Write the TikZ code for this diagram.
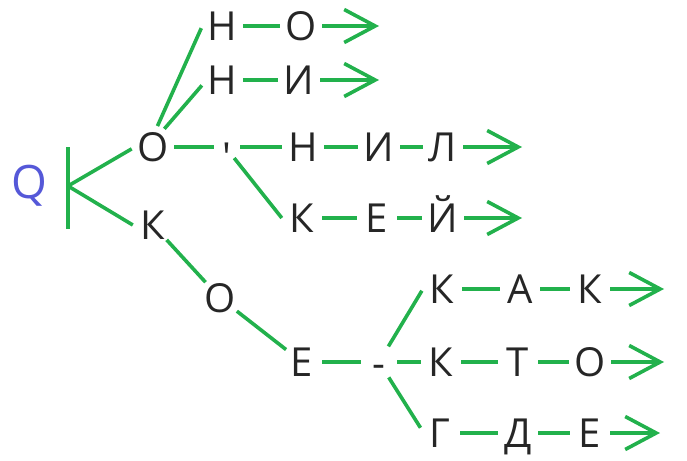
\documentclass[tikz,border=0pt]{standalone}
\usepackage{fontspec}
\newfontfamily\triefont{Open Sans}
\usetikzlibrary{arrows.meta}
\definecolor{triegreen}{HTML}{22B14C}
\definecolor{trieblue}{HTML}{5558D8}

\begin{document}
\begin{tikzpicture}[x=1pt,y=-1pt,
	letter/.style={circle,inner sep=0pt,minimum size=40pt,text=black!85,
		font=\triefont\fontsize{40}{44}\selectfont,text height=29pt,text depth=0pt},
	punct/.style={letter,minimum size=26pt,text height=12pt},
	link/.style={draw=triegreen,line width=3.6pt},
	leaf/.style={link,-{Straight Barb[length=31pt,width=33pt]}}]
	\useasboundingbox (0,0) rectangle (687,460);
	\node[inner sep=0pt,text=trieblue,font=\triefont\fontsize{46}{50}\selectfont,
		text height=33pt,text depth=0pt] (q) at (29,182) {Q};
	\coordinate (root) at (68,186);
	\draw[link] ([yshift=39pt]root) -- ([yshift=-43pt]root);
	\node[letter] (o1) at (153,147) {О};
	\node[letter] (k1) at (153,225) {К};
	\node[letter] (n1) at (222,26) {Н};
	\node[letter] (n1o) at (301,26) {О};
	\coordinate (n1end) at (379,26);
	\node[letter] (n2) at (222,80) {Н};
	\node[letter] (n2i) at (299,80) {И};
	\coordinate (n2end) at (379,80);
	\node[punct] (ap) at (227,147) {\raisebox{-18pt}{\textquotesingle}};
	\node[letter] (n3) at (303,147) {Н};
	\node[letter] (i3) at (379,147) {И};
	\node[letter] (l3) at (443,147) {Л};
	\coordinate (l3end) at (522,147);
	\node[letter] (k2) at (302,218) {К};
	\node[letter] (e2) at (377,218) {Е};
	\node[letter] (j2) at (443,218) {Й};
	\coordinate (j2end) at (522,218);
	\node[letter] (o2) at (220,298) {О};
	\node[letter] (e3) at (302,362) {Е};
	\node[punct,minimum size=36pt] (hy) at (379,362) {\raisebox{-9pt}{-}};
	\node[letter] (k3) at (442,289) {К};
	\node[letter] (a3) at (520,289) {А};
	\node[letter] (k3x) at (590,289) {К};
	\coordinate (k3end) at (664,289);
	\node[letter] (k4) at (441,362) {К};
	\node[letter] (t4) at (518,362) {Т};
	\node[letter] (o4) at (590,362) {О};
	\coordinate (o4end) at (664,362);
	\node[letter] (g5) at (440,433) {Г};
	\node[letter] (d5) at (518,433) {Д};
	\node[letter] (e5) at (590,433) {Е};
	\coordinate (e5end) at (660,433);
	\draw[link] (root) -- (o1.185);
	\draw[link] (root) -- (k1.180);
	\draw[link] (o1.78) -- (n1.186);
	\draw[link] (o1.58) -- (n2.195);
	\draw[link] (n1) -- (n1o);
	\draw[leaf] (n1o) -- (n1end);
	\draw[link] (n2) -- (n2i);
	\draw[leaf] (n2i) -- (n2end);
	\draw[link] (o1) -- (ap);
	\draw[link] (ap) -- (n3);
	\draw[link] (n3) -- (i3);
	\draw[link] (i3) -- (l3);
	\draw[leaf] (l3) -- (l3end);
	\draw[link] (ap.-57) -- (k2.180);
	\draw[link] (k2) -- (e2);
	\draw[link] (e2) -- (j2);
	\draw[leaf] (j2) -- (j2end);
	\draw[link] (k1) -- (o2);
	\draw[link] (o2) -- (e3);
	\draw[link] (e3) -- (hy);
	\draw[link] (hy) -- (k3.185);
	\draw[link] (hy) -- (k4);
	\draw[link] (hy) -- (g5.165);
	\draw[link] (k3) -- (a3);
	\draw[link] (a3) -- (k3x);
	\draw[leaf] (k3x) -- (k3end);
	\draw[link] (k4) -- (t4);
	\draw[link] (t4) -- (o4);
	\draw[leaf] (o4) -- (o4end);
	\draw[link] (g5) -- (d5);
	\draw[link] (d5) -- (e5);
	\draw[leaf] (e5) -- (e5end);
\end{tikzpicture}
\end{document}
